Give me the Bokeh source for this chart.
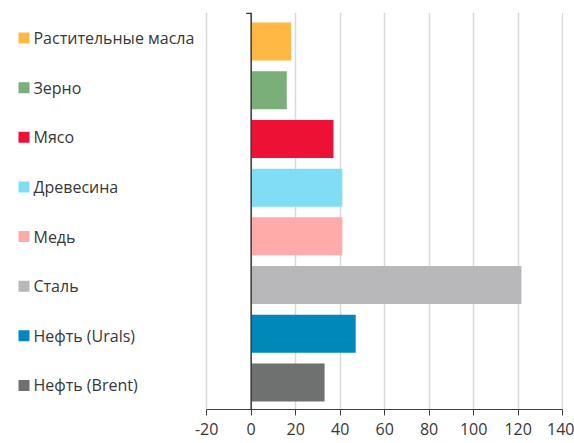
from bokeh.plotting import figure
from bokeh.models import Range1d, FixedTicker, Span, ColumnDataSource
from bokeh.embed import file_html
from bokeh.resources import INLINE
from bokeh.core.properties import value

categories = ["Растительные масла", "Зерно", "Мясо", "Древесина", "Медь",
              "Сталь", "Нефть (Urals)", "Нефть (Brent)"]
values = [18, 16, 37, 41, 41, 121.5, 47, 33]
colors = ["#FFB843", "#7AAF79", "#ED1135", "#80DDF5", "#FFAAAB",
          "#B8B8BA", "#0088BB", "#6F7070"]
x_ticks = [-20, 0, 20, 40, 60, 80, 100, 120, 140]

n = len(categories)
ypos = [n - 1 - i for i in range(n)]

W, H = 574, 443
scale = 2.225
x0 = -250.7 / scale
x1 = 140.4
frame_w = int(round((x1 - x0) * scale))
y0, y1 = -0.554, 7.595
frame_top = 12
frame_h = 397

FONT = "Open Sans"
TXT = "#383838"

p = figure(width=W, height=H, x_range=Range1d(x0, x1), y_range=Range1d(y0, y1),
           output_backend="svg", toolbar_location=None, y_axis_location=None,
           min_border_left=0, min_border_right=W - frame_w, min_border_top=frame_top,
           min_border_bottom=H - frame_top - frame_h)
p.outline_line_color = None
p.background_fill_color = "white"

src = ColumnDataSource(dict(y=ypos, right=values, color=colors, cat=categories))
p.hbar(y="y", left=0, right="right", height=0.78, fill_color="color",
       line_color=None, source=src)

# legend-like labels on the left (own spacing, like a chart legend)
ppu = frame_h / (y1 - y0)
sq_x = x0 + 23.5 / scale
tx_x = x0 + 33.0 / scale
leg_first, leg_pitch = 37.5, 49.64
lab_y = [y1 - (leg_first + i * leg_pitch - frame_top) / ppu for i in range(n)]
p.scatter(x=[sq_x] * n, y=lab_y, marker="square", size=11, fill_color=colors,
          line_color=None)
p.text(x=[tx_x] * n, y=lab_y, text=categories, text_font=value(FONT),
       text_font_size="16px", text_color=TXT, text_baseline="middle",
       text_align="left")

# zero line and its top tick
p.add_layout(Span(location=0, dimension="height", line_color="#3a3a3a",
                  line_width=1.5))
p.segment(x0=[-5.0 / scale], y0=[y1 - 0.8 / ppu], x1=[0], y1=[y1 - 0.8 / ppu],
          line_color="#3a3a3a", line_width=1.5)

p.ygrid.visible = False
p.xgrid.ticker = FixedTicker(ticks=x_ticks)
p.xgrid.grid_line_color = "#d9d9d9"
p.xgrid.grid_line_width = 1.5

ax = p.xaxis[0]
ax.ticker = FixedTicker(ticks=x_ticks)
ax.bounds = (-20, 140)
ax.axis_line_color = "#404040"
ax.major_tick_line_color = "#404040"
ax.major_tick_out = 6
ax.major_tick_in = 0
ax.minor_tick_line_color = None
ax.major_label_standoff = 7
ax.major_label_overrides = {-20: "-20"}
ax.major_label_text_font = FONT
ax.major_label_text_font_size = "16px"
ax.major_label_text_color = TXT

open("out.html", "w").write(file_html(p, INLINE))
